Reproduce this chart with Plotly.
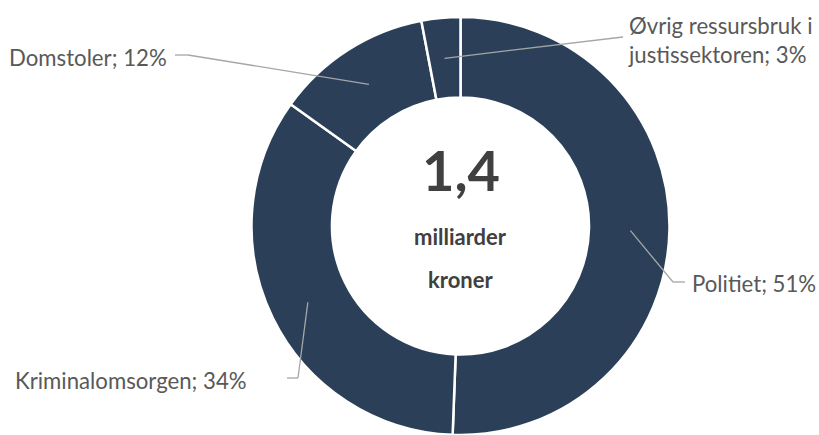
import math
import plotly.graph_objects as go

# data (shares in percent)
labels = ["Politiet", "Kriminalomsorgen", "Domstoler", "Øvrig ressursbruk i<br>justissektoren"]
shares = [50.6, 34.3, 12.1, 3.0]
total_txt = "1,4"
unit_txt = ["milliarder", "kroner"]

W, H = 819, 435
navy = "#2B4058"
txt_grey = "#595959"
line_grey = "#A6A6A6"

# donut geometry in screen pixels
cx, cy = 460.5, 227.5
top_px, bot_px = 17, 438
hole = 0.615
r_out = (bot_px - top_px) / 2
r_mid = r_out * (1 + hole) / 2

def px(x):
    return x / W

def py(y):
    return 1 - y / H

fig = go.Figure(go.Pie(
    labels=labels, values=shares, hole=hole,
    sort=False, direction="clockwise", rotation=0,
    marker=dict(colors=[navy] * 4, line=dict(color="white", width=2.5)),
    textinfo="none", hoverinfo="skip", showlegend=False,
    domain=dict(x=[px(cx - 300), px(cx + 300)], y=[max(py(bot_px), 0), py(top_px)]),
))

# label placement (text position, anchor side, elbow points of the leader line)
place = [
    dict(tx=690, ty=283, xa="left", elbow=[(673, 282), (685, 282)]),
    dict(tx=249, ty=380, xa="right", elbow=[(298, 378), (287, 378)]),
    dict(tx=169, ty=57, xa="right", elbow=[(188, 55), (175, 55)]),
    dict(tx=626, ty=40, xa="left", elbow=[(623, 37)]),
]

shapes = []
annotations = []
cum = 0
tot = sum(shares)
for lab, v, p in zip(labels, shares, place):
    mid = (cum + v / 2) / tot
    cum += v
    th = 2 * math.pi * mid
    ax_, ay_ = cx + r_mid * math.sin(th), cy - r_mid * math.cos(th)
    pts = [(ax_, ay_)] + p["elbow"]
    for (x0, y0), (x1, y1) in zip(pts[:-1], pts[1:]):
        shapes.append(dict(type="line", xref="paper", yref="paper",
                           x0=px(x0), y0=py(y0), x1=px(x1), y1=py(y1),
                           line=dict(color=line_grey, width=1.3)))
    annotations.append(dict(
        text=f"{lab}; {round(v / tot * 100)}%", x=px(p["tx"]), y=py(p["ty"]),
        xref="paper", yref="paper", xanchor=p["xa"], yanchor="middle",
        align="left", showarrow=False,
        font=dict(family="Lato", size=22.2, color=txt_grey)))

# centre text
annotations.append(dict(text=f"<b>{total_txt}</b>", x=px(cx), y=py(169), xref="paper", yref="paper",
                        showarrow=False, font=dict(family="Lato", size=56, color="#404040")))
for t, yy in zip(unit_txt, [236, 279]):
    annotations.append(dict(text=f"<b>{t}</b>", x=px(cx), y=py(yy), xref="paper", yref="paper",
                            showarrow=False, font=dict(family="Lato", size=22, color="#404040")))

fig.update_layout(width=W, height=H, margin=dict(l=0, r=0, t=0, b=0),
                  paper_bgcolor="white", plot_bgcolor="white",
                  shapes=shapes, annotations=annotations)
fig.write_html("out.html", config={"displayModeBar": False},
               post_script="document.body.style.margin='0';document.body.style.overflow='hidden';")
